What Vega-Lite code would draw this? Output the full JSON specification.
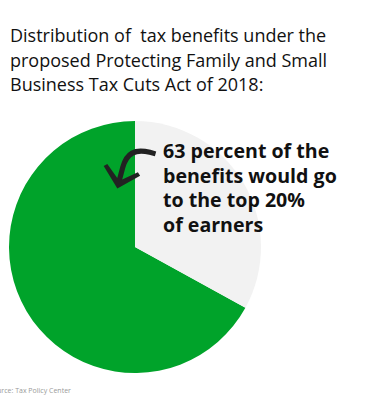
{
  "$schema": "https://vega.github.io/schema/vega-lite/v6.json",
  "width": 270,
  "height": 252,
  "autosize": {"type": "none"},
  "padding": {"left": 0, "top": 121, "right": 100, "bottom": 27},
  "background": "white",
  "config": {"view": {"stroke": null}},
  "title": {
    "text": ["Distribution of\u00a0 tax benefits under the", "proposed Protecting Family and Small", "Business Tax Cuts Act of 2018:"],
    "anchor": "start",
    "frame": "group",
    "font": "Open Sans",
    "fontSize": 18,
    "fontWeight": "normal",
    "color": "#111111",
    "lineHeight": 24.5,
    "dx": 10,
    "offset": 26
  },
  "layer": [
    {
      "data": {"values": [
        {"group": "Top 20% of earners", "share": 67},
        {"group": "Everyone else", "share": 33}
      ]},
      "mark": {"type": "arc"},
      "encoding": {
        "theta": {"field": "share", "type": "quantitative", "stack": true},
        "order": {"field": "group", "sort": "ascending"},
        "color": {
          "field": "group",
          "type": "nominal",
          "scale": {"domain": ["Everyone else", "Top 20% of earners"], "range": ["#f2f2f2", "#00a32a"]},
          "legend": null
        }
      }
    },
    {
      "data": {"values": [{"note": ["63 percent of the", "benefits would go", "to the top 20%", "of earners"]}]},
      "mark": {"type": "text", "align": "left", "baseline": "alphabetic", "font": "Open Sans", "fontWeight": "bold", "fontSize": 19.6, "lineHeight": 24.5, "color": "#111111"},
      "encoding": {
        "text": {"field": "note"},
        "x": {"value": 163},
        "y": {"value": 37}
      }
    },
    {
      "data": {"values": [{"glyph": "⤷"}]},
      "mark": {"type": "text", "align": "center", "baseline": "middle", "font": "DejaVu Sans", "fontSize": 92, "color": "#222222", "angle": 105},
      "encoding": {
        "text": {"field": "glyph"},
        "x": {"value": 133},
        "y": {"value": 47}
      }
    },
    {
      "data": {"values": [{"source": "Source: Tax Policy Center"}]},
      "mark": {"type": "text", "align": "left", "baseline": "alphabetic", "font": "Open Sans", "fontSize": 7, "color": "#9a9a9a"},
      "encoding": {
        "text": {"field": "source"},
        "x": {"value": -11},
        "y": {"value": 272}
      }
    }
  ]
}
